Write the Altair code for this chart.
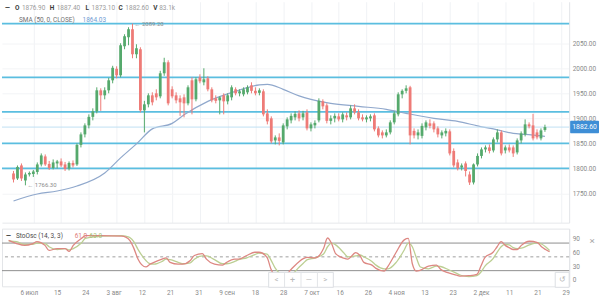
import json
import altair as alt
import pandas as pd

# ---------------- data ----------------
first_day = -5  # candle index relative to 6 Jul
opens = [1790, 1780, 1806, 1776, 1788,
         1789, 1793, 1808, 1824, 1809, 1801, 1810, 1814, 1808, 1800,
         1811, 1808, 1847, 1868, 1886, 1903, 1914, 1956, 1946, 1956,
         1976, 1999, 1986, 2044, 2062, 2078, 2028, 2038, 1916, 1928,
         1946, 1950, 1944, 1990, 2012, 1958, 1946, 1940, 1942, 1930,
         1976, 1938, 1982, 1972, 1980, 1958, 1940, 1936, 1946, 1934,
         1942, 1958, 1950, 1948, 1952, 1966, 1955, 1951, 1954, 1910,
         1900, 1856, 1862, 1852, 1884, 1896, 1902, 1910, 1902, 1912,
         1880, 1886, 1896, 1934, 1926, 1895, 1900, 1904, 1898, 1906,
         1902, 1920, 1912, 1902, 1898, 1900, 1906, 1880, 1872, 1866,
         1872, 1892, 1908, 1948, 1955, 1962, 1875, 1866, 1865, 1882,
         1890, 1890, 1880, 1866, 1870, 1874, 1835, 1812, 1802, 1810,
         1788, 1772, 1808, 1825, 1838, 1842, 1836, 1858, 1872, 1836,
         1842, 1842, 1832, 1856, 1868, 1888, 1886, 1872, 1860, 1876.9]
highs = [1795, 1806, 1810, 1792, 1794,
         1797, 1812, 1830, 1828, 1815, 1818, 1817, 1820, 1813, 1814,
         1816, 1850, 1872, 1890, 1908, 1920, 1962, 1960, 1962, 1981,
         2005, 2004, 2050, 2068, 2082, 2089.2, 2048, 2042, 1935, 1950,
         1952, 1958, 1995, 2021, 2016, 1964, 1952, 1946, 1948, 1966,
         1982, 1982, 1988, 2000, 1984, 1962, 1946, 1944, 1950, 1950,
         1966, 1962, 1958, 1962, 1966, 1972, 1962, 1960, 1958, 1918,
         1904, 1866, 1870, 1890, 1902, 1910, 1914, 1916, 1915, 1918,
         1892, 1896, 1940, 1938, 1930, 1906, 1910, 1910, 1912, 1912,
         1926, 1928, 1918, 1908, 1906, 1908, 1910, 1884, 1876, 1878,
         1896, 1914, 1952, 1958, 1966, 1965, 1880, 1878, 1890, 1896,
         1898, 1894, 1884, 1876, 1880, 1878, 1840, 1818, 1810, 1814,
         1794, 1810, 1830, 1842, 1846, 1848, 1862, 1878, 1876, 1846,
         1848, 1846, 1860, 1874, 1898, 1892, 1909, 1878, 1880, 1887.4]
lows = [1772, 1777, 1775, 1766.3, 1784,
        1783, 1788, 1804, 1805, 1797, 1798, 1800, 1803, 1795, 1796,
        1802, 1805, 1842, 1862, 1880, 1896, 1910, 1915, 1938, 1950,
        1970, 1980, 1982, 2038, 2046, 2020, 2020, 1912, 1872, 1922,
        1926, 1936, 1940, 1985, 1926, 1940, 1930, 1905, 1902, 1926,
        1908, 1934, 1970, 1966, 1954, 1932, 1930, 1908, 1908, 1928,
        1936, 1946, 1944, 1944, 1948, 1950, 1946, 1946, 1904, 1888,
        1850, 1848, 1846, 1848, 1878, 1890, 1896, 1894, 1896, 1876,
        1874, 1880, 1892, 1918, 1890, 1888, 1892, 1894, 1892, 1896,
        1898, 1908, 1896, 1894, 1892, 1894, 1874, 1862, 1860, 1862,
        1868, 1888, 1904, 1940, 1950, 1848, 1860, 1858, 1860, 1876,
        1880, 1872, 1862, 1860, 1864, 1826, 1802, 1796, 1796, 1784,
        1767, 1768, 1804, 1820, 1832, 1830, 1832, 1852, 1826, 1830,
        1832, 1823, 1828, 1850, 1864, 1880, 1856, 1858, 1856, 1873.1]
closes = [1778, 1803, 1780, 1788, 1791,
          1794, 1808, 1826, 1808, 1801, 1812, 1814, 1806, 1799, 1811,
          1806, 1847, 1868, 1886, 1903, 1914, 1956, 1946, 1956, 1976,
          2001, 1986, 2046, 2064, 2078, 2028, 2040, 1916, 1928, 1946,
          1932, 1942, 1990, 2012, 1930, 1944, 1936, 1932, 1930, 1962,
          1938, 1978, 1974, 1978, 1958, 1936, 1935, 1942, 1934, 1946,
          1962, 1950, 1954, 1958, 1962, 1955, 1950, 1956, 1908, 1894,
          1854, 1862, 1855, 1886, 1898, 1905, 1909, 1900, 1910, 1880,
          1888, 1891, 1935, 1924, 1895, 1900, 1905, 1898, 1908, 1902,
          1920, 1912, 1900, 1898, 1902, 1904, 1878, 1866, 1866, 1872,
          1892, 1910, 1948, 1955, 1960, 1866, 1866, 1872, 1885, 1892,
          1885, 1878, 1868, 1872, 1875, 1830, 1806, 1800, 1806, 1795,
          1772, 1808, 1825, 1838, 1842, 1835, 1858, 1872, 1830, 1842,
          1836, 1830, 1856, 1870, 1888, 1884, 1860, 1862, 1876, 1882.6]

levels = [2089.2, 1982, 1913, 1850, 1800]
last_price = 1882.6

sma_day = [-5, 1, 6, 11, 18, 22, 26, 30, 35, 38, 44, 51, 57, 59, 63, 67, 70,
           75, 82, 89, 94, 101, 107, 112, 117, 121, 124, 129]
sma_val = [1735, 1749, 1755, 1765, 1791, 1821, 1849, 1879, 1890, 1907, 1934,
           1954, 1967, 1968, 1958, 1945, 1938, 1930, 1924, 1918, 1910, 1900,
           1894, 1885, 1877, 1870, 1868, 1864.03]

k_day = [-5, -3, -1, 1, 2, 4, 5, 7, 9, 10, 11, 13, 14, 18, 23, 24, 25, 26, 27,
         29, 30, 31, 33, 34, 35, 37, 38, 40, 41, 43, 44, 46, 48, 49, 51, 52,
         54, 56, 57, 59, 60, 61, 63, 65, 67, 68, 69, 71, 73, 74, 75, 76, 78,
         79, 81, 82, 83, 85, 86, 88, 89, 91, 93, 94, 95, 96, 97, 99, 101, 102,
         104, 106, 107, 109, 111, 112, 113, 115, 116, 117, 118, 119, 120, 121,
         122, 124, 126, 127, 128, 129]
k_val = [86, 79, 75, 79, 83, 75, 64, 68, 68, 62, 75, 90, 96, 96, 95, 93, 86, 69,
         46, 28, 34, 38, 45, 48, 38, 34, 34, 42, 53, 57, 45, 34, 32, 38, 45, 45,
         53, 60, 60, 49, 23, 9, 5, 23, 40, 46, 49, 48, 68, 91, 79, 57, 47, 45,
         59, 53, 38, 32, 25, 19, 30, 60, 87, 90, 35, 19, 21, 30, 32, 23, 15, 10,
         8, 9, 12, 30, 49, 60, 72, 83, 75, 70, 66, 66, 75, 84, 81, 72, 66, 61.0]

d_day = [-5, -3, -1, 1, 2, 4, 5, 7, 9, 10, 11, 13, 14, 18, 23, 24, 25, 26, 27,
         29, 30, 31, 33, 34, 35, 37, 38, 40, 41, 43, 44, 46, 48, 49, 51, 52,
         54, 56, 57, 59, 60, 61, 63, 65, 67, 68, 69, 71, 73, 74, 75, 76, 78,
         79, 81, 82, 83, 85, 86, 88, 89, 91, 93, 94, 95, 96, 97, 99, 101, 102,
         104, 106, 107, 109, 111, 112, 113, 115, 116, 117, 118, 119, 120, 121,
         122, 124, 126, 127, 128, 129]
d_val = [85, 83, 77, 77, 80, 79, 72, 66, 68, 65, 68, 80, 90, 95, 96, 95, 92, 83,
         67, 42, 35, 34, 40, 45, 44, 38, 35, 37, 45, 52, 52, 44, 35, 35, 40, 44,
         48, 55, 58, 56, 43, 26, 11, 12, 28, 36, 44, 48, 56, 72, 80, 76, 59, 50,
         52, 54, 50, 40, 32, 24, 24, 38, 65, 80, 72, 48, 28, 24, 30, 29, 22, 14,
         10, 7, 9, 17, 30, 46, 60, 72, 77, 76, 70, 68, 69, 76, 81, 78, 72, 63.8]

tick_days = list(range(0, 134, 7))
tick_labels = ["6 июл", "15", "24", "3 авг", "12", "21", "31", "9 сен", "18",
               "28", "7 окт", "16", "26", "4 ноя", "13", "23", "2 дек", "11",
               "21", "29"]
price_ticks = [1750, 1800, 1850, 1900, 1950, 2000, 2050]
stoch_ticks = [0, 30, 60, 90]
stoch_levels = [80, 20]
stoch_mid = 50

# ---------------- styling ----------------
FONT = "Roboto"
GREEN = "#55a96c"
RED = "#ee7b77"
CYAN = "#5bbee0"
W = 570
H_PRICE = 222
H_STOCH = 58

candles = pd.DataFrame({
    "day": list(range(first_day, first_day + len(opens))),
    "open": opens, "high": highs, "low": lows, "close": closes,
})
candles["dir"] = ["up" if c >= o else "down" for o, c in zip(opens, closes)]

xscale = alt.Scale(domain=[-6.65, 133.85], nice=False, zero=False)
yscale = alt.Scale(domain=[1691.8, 2132.9], nice=False, zero=False)
sscale = alt.Scale(domain=[-14.1, 111.5], nice=False, zero=False)
cscale = alt.Scale(domain=["up", "down"], range=[GREEN, RED])

label_expr = json.dumps(tick_labels, ensure_ascii=False) + "[round(datum.value / 7)]"

x_price = alt.X("day:Q", scale=xscale, title=None,
                axis=alt.Axis(values=tick_days, labels=False, ticks=False,
                              domain=True, domainColor="#e6e8eb",
                              grid=True, gridColor="#f0f2f5"))
y_axis = alt.Axis(values=price_ticks, format=".2f", orient="right",
                  ticks=False, domainColor="#e2e4e8", grid=True,
                  gridColor="#f3f4f6", labelFontSize=6.5, labelColor="#8a8a8a",
                  labelPadding=3, labelFont=FONT)

base = alt.Chart(candles)

lv = alt.Chart(pd.DataFrame({"level": levels})).mark_rule(
    color=CYAN, strokeWidth=1.8).encode(
    y=alt.Y("level:Q", scale=yscale, axis=y_axis, title=None))

cur = alt.Chart(pd.DataFrame({"p": [last_price]})).mark_rule(
    color="#bfe0f3", strokeWidth=1).encode(
    y=alt.Y("p:Q", scale=yscale, axis=y_axis, title=None))

sma = alt.Chart(pd.DataFrame({"day": sma_day, "sma": sma_val})).mark_line(
    color="#90a8cc", strokeWidth=1.2, interpolate="monotone").encode(
    x=x_price, y=alt.Y("sma:Q", scale=yscale, axis=y_axis, title=None))

wick = base.mark_rule(strokeWidth=1).encode(
    x=x_price,
    y=alt.Y("low:Q", scale=yscale, axis=y_axis, title=None),
    y2="high:Q",
    color=alt.Color("dir:N", scale=cscale, legend=None))

body = base.mark_bar(size=2.8).encode(
    x=x_price,
    y=alt.Y("open:Q", scale=yscale, axis=y_axis, title=None),
    y2="close:Q",
    color=alt.Color("dir:N", scale=cscale, legend=None))

imax = candles["high"].idxmax()
imin = candles["low"].idxmin()
ext = pd.DataFrame({
    "day": [candles.loc[imax, "day"], candles.loc[imin, "day"]],
    "p": [candles.loc[imax, "high"], candles.loc[imin, "low"]],
})
ext["label"] = ["← " + f"{v:.2f}" for v in ext["p"]]
ext_txt = alt.Chart(ext).mark_text(align="left", baseline="middle", dx=2,
                                   fontSize=6, font=FONT, color="#8c8c8c").encode(
    x=x_price, y=alt.Y("p:Q", scale=yscale, axis=y_axis, title=None),
    text="label:N")


def txt(s, x, y, color, size=6.5, weight="normal", align="left"):
    return alt.Chart(pd.DataFrame({"t": [s]})).mark_text(
        align=align, baseline="middle", fontSize=size, font=FONT,
        color=color, fontWeight=weight).encode(
        x=alt.value(x), y=alt.value(y), text="t:N")


hdr_dark = "#3a3a3a"
hdr_val = "#9b9b9b"
header = [
    txt("—", 3, 6.7, hdr_dark, weight="bold"),
    txt("O", 13, 6.7, hdr_dark, weight="bold"), txt(f"{opens[-1]:.2f}", 20, 6.7, hdr_val),
    txt("H", 48, 6.7, hdr_dark, weight="bold"), txt(f"{highs[-1]:.2f}", 55, 6.7, hdr_val),
    txt("L", 84, 6.7, hdr_dark, weight="bold"), txt(f"{lows[-1]:.2f}", 90, 6.7, hdr_val),
    txt("C", 117, 6.7, hdr_dark, weight="bold"), txt(f"{closes[-1]:.2f}", 124, 6.7, hdr_val),
    txt("V", 152, 6.7, hdr_dark, weight="bold"), txt("83.1k", 158, 6.7, hdr_val),
    txt("SMA (50, 0, CLOSE)", 17, 18.3, "#707070"),
    txt(f"{sma_val[-1]:.2f}", 81, 18.3, "#6f9bd3"),
]

tag_rect = alt.Chart(pd.DataFrame({"a": [1]})).mark_rect(
    color="#3e8ed6", cornerRadius=1).encode(
    x=alt.value(571), x2=alt.value(600), y=alt.value(119.7), y2=alt.value(132.2))
tag_txt = txt(f"{last_price:.2f}", 585.5, 126, "white", size=6.8, align="center")

price = alt.layer(lv, sma, cur, wick, body, ext_txt, *header, tag_rect, tag_txt).properties(
    width=W, height=H_PRICE)

# ---------------- stochastic panel ----------------
x_st = alt.X("day:Q", scale=xscale, title=None,
             axis=alt.Axis(values=tick_days, labelExpr=label_expr, ticks=False,
                           domain=False, grid=False, labelFontSize=6.5,
                           labelColor="#8a8a8a", labelPadding=3, labelFont=FONT))
s_axis = alt.Axis(values=stoch_ticks, orient="right", ticks=False,
                  domainColor="#e2e4e8", grid=False, labelFontSize=6.5,
                  labelColor="#8a8a8a", labelPadding=3, labelFont=FONT)

s_lv = alt.Chart(pd.DataFrame({"v": stoch_levels})).mark_rule(
    color="#8e8e8e", strokeWidth=1).encode(
    y=alt.Y("v:Q", scale=sscale, axis=s_axis, title=None))
s_mid = alt.Chart(pd.DataFrame({"v": [stoch_mid]})).mark_rule(
    color="#9e9e9e", strokeWidth=1, strokeDash=[3, 3]).encode(
    y=alt.Y("v:Q", scale=sscale, axis=s_axis, title=None))
d_line = alt.Chart(pd.DataFrame({"day": d_day, "v": d_val})).mark_line(
    color="#bccf93", strokeWidth=1.3, interpolate="monotone", clip=True).encode(
    x=x_st, y=alt.Y("v:Q", scale=sscale, axis=s_axis, title=None))
k_line = alt.Chart(pd.DataFrame({"day": k_day, "v": k_val})).mark_line(
    color="#dd8782", strokeWidth=1.3, interpolate="monotone", clip=True).encode(
    x=x_st, y=alt.Y("v:Q", scale=sscale, axis=s_axis, title=None))

s_hdr = [
    txt("—", 4, 7, hdr_dark, weight="bold"),
    txt("StoOsc (14, 3, 3)", 14, 7, "#4a4a4a"),
    txt(f"{k_val[-1]:.1f}", 73, 7, "#e07c78"),
    txt(f"{d_val[-1]:.1f}", 88, 7, "#a6bf78"),
]


def box(x1, x2, y1, y2):
    return alt.Chart(pd.DataFrame({"a": [1]})).mark_rect(
        fill="white", stroke="#dcdfe3", strokeWidth=1).encode(
        x=alt.value(x1), x2=alt.value(x2), y=alt.value(y1), y2=alt.value(y2))


def vsep(x, y1, y2):
    return alt.Chart(pd.DataFrame({"a": [1]})).mark_rule(
        color="#e3e5e8", strokeWidth=1).encode(
        x=alt.value(x), y=alt.value(y1), y2=alt.value(y2))


nav = [
    box(268, 333, 44, 59), vsep(284, 44, 59), vsep(300.5, 44, 59), vsep(317, 44, 59),
    txt("<", 276, 51.5, "#b9b9b9", size=8, align="center"),
    txt("+", 292, 51.5, "#b9b9b9", size=9, align="center"),
    txt("—", 308.5, 51.5, "#b9b9b9", size=8, align="center"),
    txt(">", 325, 51.5, "#b9b9b9", size=8, align="center"),
    box(556, 570, 44, 59),
    txt("↺", 563, 51.5, "#b9b9b9", size=8, align="center"),
    txt("×", 593, 12, "#a8a8a8", size=10, align="center"),
]

stoch = alt.layer(s_lv, s_mid, d_line, k_line, *s_hdr, *nav).properties(
    width=W, height=H_STOCH, view=alt.ViewBackground(stroke="#e3e5e8"))

chart = alt.vconcat(price, stoch, spacing=6, bounds="flush").properties(
    padding=0, background="white").configure_view(stroke="transparent")

chart.save("out.html", embed_options={"renderer": "svg", "actions": False})
